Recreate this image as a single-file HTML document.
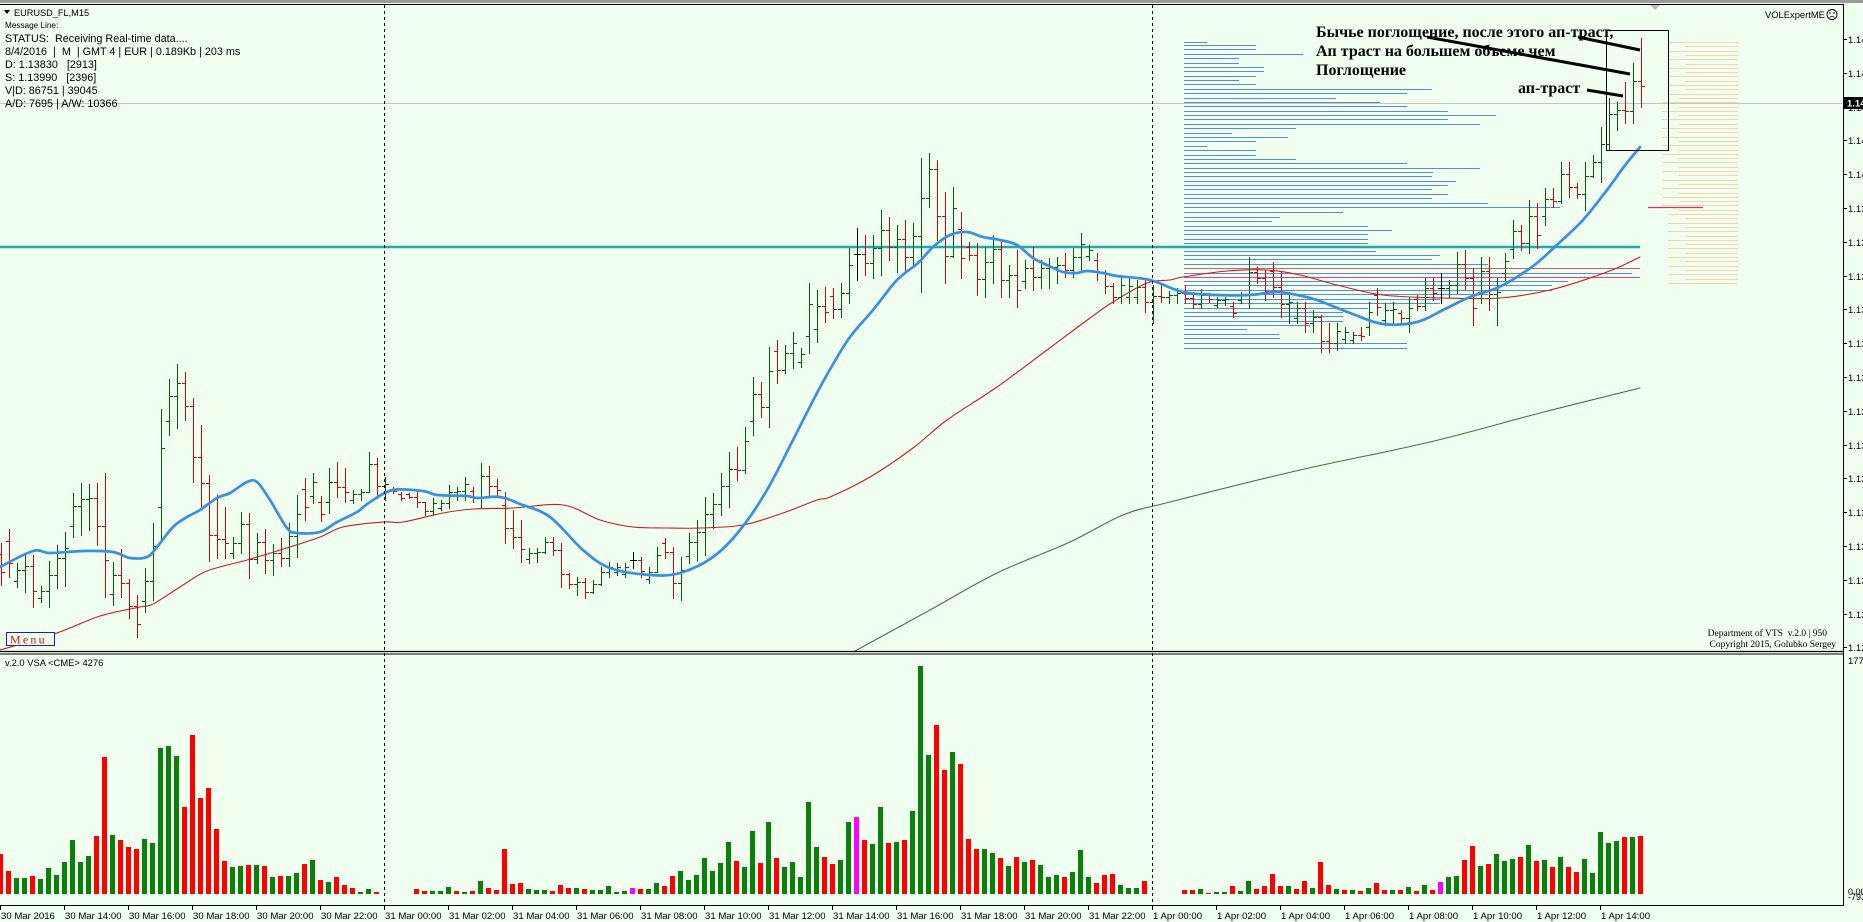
<!DOCTYPE html>
<html><head><meta charset="utf-8">
<style>
html,body{margin:0;padding:0;background:#F0FFF0;overflow:hidden;}
svg{display:block;}
text{font-family:"Liberation Sans",sans-serif;fill:#000;}
.ser{font-family:"Liberation Serif",serif;}
.pre{white-space:pre;}
</style></head><body>
<svg id="s" xmlns="http://www.w3.org/2000/svg" width="1863" height="922" viewBox="0 0 1863 922">
<rect width="1863" height="922" fill="#F0FFF0"/>
<rect x="0" y="0" width="1863" height="3" fill="#9a9a9a"/>
<rect x="0" y="4" width="1844" height="1" fill="#000"/>
<polygon points="1650,5 1660,5 1655,10" fill="#bdbdbd"/>
<g id="prof"></g>
<line x1="0" y1="103.5" x2="1843" y2="103.5" stroke="#c4c4c4" stroke-width="1"/>
<line x1="0" y1="247" x2="1640" y2="247" stroke="#22aaaa" stroke-width="2.4"/>
<line x1="1184" y1="268.5" x2="1640" y2="268.5" stroke="#d06078" stroke-width="1"/>
<line x1="1184" y1="277.5" x2="1640" y2="277.5" stroke="#e2408a" stroke-width="1"/>
<line x1="1648" y1="207.5" x2="1703" y2="207.5" stroke="#d0307a" stroke-width="1.2"/>
<g id="ma"></g>
<g id="bars"></g>
<g id="vol"></g>

<line x1="384.5" y1="5" x2="384.5" y2="905" stroke="#000" stroke-width="1" stroke-dasharray="3,3"/>
<line x1="1152.5" y1="5" x2="1152.5" y2="905" stroke="#000" stroke-width="1" stroke-dasharray="3,3"/>

<line x1="1843.5" y1="4" x2="1843.5" y2="906" stroke="#000" stroke-width="1"/>
<line x1="0" y1="651.5" x2="1844" y2="651.5" stroke="#000" stroke-width="1.3"/>
<line x1="0" y1="654" x2="1844" y2="654" stroke="#000" stroke-width="1"/>
<line x1="0" y1="905.5" x2="1844" y2="905.5" stroke="#000" stroke-width="1"/>
<g id="axes"></g>

<polygon points="4,10 10,10 7,14" fill="#000"/>
<text x="14" y="16" font-size="9.2">EURUSD_FL,M15</text>
<text x="5" y="28" font-size="8.2">Message Line:</text>
<text x="5" y="42" font-size="10.8" class="pre">STATUS:  Receiving Real-time data....</text>
<text x="5" y="55" font-size="10.8" class="pre">8/4/2016  |  M  | GMT 4 | EUR | 0.189Kb | 203 ms</text>
<text x="5" y="68" font-size="10.8" class="pre">D: 1.13830   [2913]</text>
<text x="5" y="81" font-size="10.8" class="pre">S: 1.13990   [2396]</text>
<text x="5" y="94" font-size="10.8" class="pre">V|D: 86751 | 39045</text>
<text x="5" y="107" font-size="10.8" class="pre">A/D: 7695 | A/W: 10366</text>

<text x="1765" y="18" font-size="9.4">VOLExpertME</text>
<circle cx="1832" cy="14.5" r="5" fill="none" stroke="#000" stroke-width="0.9"/>
<circle cx="1830" cy="13" r="0.8" fill="#000"/><circle cx="1834" cy="13" r="0.8" fill="#000"/>
<path d="M1829.5 17.5 Q1832 15.5 1834.5 17.5" fill="none" stroke="#000" stroke-width="0.8"/>

<text x="1316" y="37" font-size="16" font-weight="bold" class="ser">Бычье поглощение, после этого ап-траст,</text>
<text x="1316" y="56" font-size="16" font-weight="bold" class="ser">Ап траст на большем объеме чем</text>
<text x="1316" y="75" font-size="16" font-weight="bold" class="ser">Поглощение</text>
<text x="1518" y="93" font-size="16" font-weight="bold" class="ser">ап-траст</text>
<line x1="1578" y1="37" x2="1640" y2="50" stroke="#000" stroke-width="3"/>
<line x1="1427" y1="37" x2="1630" y2="74" stroke="#000" stroke-width="3"/>
<line x1="1587" y1="90" x2="1623" y2="96" stroke="#000" stroke-width="3"/>
<rect x="1606.5" y="30.5" width="62" height="120" fill="none" stroke="#000" stroke-width="1"/>

<text x="1827" y="636" font-size="9.5" text-anchor="end" class="ser pre">Department of VTS  v.2.0 | 950</text>
<text x="1836" y="647" font-size="9.5" text-anchor="end" class="ser">Copyright 2015, Golubko Sergey</text>

<rect x="6.5" y="632.5" width="48" height="13" fill="#F0FFF0" stroke="#2020b0" stroke-width="1"/>
<text x="10" y="643.5" font-size="12" style="fill:#e01010;letter-spacing:2.2px" class="ser">Menu</text>

<text x="5" y="666" font-size="9.4">v.2.0 VSA &lt;CME&gt; 4276</text>
<text x="1848" y="664" font-size="9.5">1772</text>
<text x="1848" y="895" font-size="9">0.00</text>
<text x="1848" y="900" font-size="9">-793</text>

<rect x="1844" y="97" width="19" height="12" fill="#000"/>
<text x="1847" y="106.5" font-size="9.5" font-weight="bold" style="fill:#fff">1.14</text>
</svg>
<script>
(function(){
var NS="http://www.w3.org/2000/svg";
function mk(t,a,p){var e=document.createElementNS(NS,t);for(var k in a)e.setAttribute(k,a[k]);p.appendChild(e);return e;}
var prof=document.getElementById('prof'),ma=document.getElementById('ma'),bars=document.getElementById('bars'),vol=document.getElementById('vol'),axes=document.getElementById('axes');

var BP=[[42,1207],[45,1256],[49,1256],[54,1303],[58,1239],[63,1239],[67,1264],[71,1264],[76,1256],[80,1239],[84,1256],[89,1432],[93,1407],[98,1336],[102,1380],[106,1407],[111,1448],[115,1496],[119,1448],[124,1480],[128,1296],[133,1232],[137,1288],[141,1256],[146,1207],[150,1256],[155,1256],[159,1296],[163,1407],[168,1480],[172,1433],[176,1432],[181,1456],[185,1448],[189,1432],[194,1448],[198,1432],[203,1488],[207,1560],[212,1343],[217,1280],[221,1272],[226,1368],[230,1392],[234,1368],[239,1368],[243,1368],[251,1376],[255,1440],[259,1432],[264,1488],[273,1632],[281,1568],[285,1552],[290,1552],[294,1488],[299,1440],[303,1440],[308,1368],[312,1343],[316,1343],[321,1343],[325,1310],[329,1247],[334,1279],[338,1280],[343,1407],[348,1407]];
var d='';BP.forEach(function(p){d+='M1184 '+(p[0]+.5)+'H'+p[1];});
mk('path',{d:d,stroke:'#5c8ad4','stroke-width':1,fill:'none'},prof);
var od='';for(var k=0;k<57;k++){var y=Math.round(42+k*4.3)+.5;var l=1668+((k*17)%34);if(k>12&&k<40)l-=6;od+='M'+l+' '+y+'H1738';}
mk('path',{d:od,stroke:'#f6d3ae','stroke-width':1,fill:'none'},prof);

function cr(pts){var s='M'+pts[0][0]+' '+pts[0][1];
 for(var i=0;i<pts.length-1;i++){var p0=pts[i-1]||pts[i],p1=pts[i],p2=pts[i+1],p3=pts[i+2]||p2;
  var c1x=p1[0]+(p2[0]-p0[0])/6,c1y=p1[1]+(p2[1]-p0[1])/6,c2x=p2[0]-(p3[0]-p1[0])/6,c2y=p2[1]-(p3[1]-p1[1])/6;
  s+='C'+c1x.toFixed(1)+' '+c1y.toFixed(1)+' '+c2x.toFixed(1)+' '+c2y.toFixed(1)+' '+p2[0]+' '+p2[1];}
 return s;}
function pl(pts,col,w,par){mk('path',{d:cr(pts),fill:'none',stroke:col,'stroke-width':w,'stroke-linejoin':'round','stroke-linecap':'round'},par);}
var RED=[[0,650],[57,633],[100,616],[140,607],[153,604],[180,587],[207,571],[247,560],[290,547],[320,537],[343,527],[383,522],[403,522],[443,513],[473,509],[513,508],[563,505],[600,520],[633,527],[667,528],[700,528],[743,525],[783,513],[817,500],[830,497],[870,477],[913,448],[947,420],[997,387],[1047,350],[1090,318],[1113,302],[1147,283],[1170,280],[1183,277],[1227,271],[1267,270],[1300,275],[1337,285],[1383,295],[1443,298],[1500,298],[1550,290],[1593,277],[1617,268],[1640,257]];
var GRN=[[855,651],[930,610],[997,573],[1070,542],[1123,515],[1170,502],[1300,470],[1430,442],[1540,413],[1640,388]];
pl(RED,'#c81e1e',1.1,ma);
pl(GRN,'#3a7a3a',1.1,ma);

var P=[[543,585,'r'],[529,577,'r'],[563,587,'g'],[555,592,'g'],[555,607,'r'],[586,602,'g'],[561,607,'g'],[545,588,'g'],[532,586,'g'],[493,537,'g'],
[483,535,'g'],[484,530,'g'],[483,545,'r'],[473,597,'r'],[562,605,'g'],[549,597,'r'],[579,618,'r'],[595,637,'r'],[568,612,'g'],[523,600,'g'],
[409,540,'g'],[379,435,'g'],[364,428,'g'],[372,420,'r'],[398,482,'r'],[425,508,'r'],[475,561,'r'],[495,558,'r'],[507,558,'r'],[537,558,'g'],
[512,553,'g'],[513,578,'r'],[533,563,'g'],[529,573,'r'],[544,575,'g'],[538,566,'r'],[523,566,'g'],[495,557,'g'],[478,520,'r'],[473,503,'g'],
[496,521,'r'],[468,513,'g'],[462,497,'r'],[468,502,'r'],[490,503,'g'],[489,500,'g'],[452,492,'g'],[458,498,'r'],[477,500,'g'],[487,493,'r'],
[492,500,'r'],[493,498,'r'],[490,507,'r'],[502,515,'r'],[498,515,'g'],[500,510,'g'],[485,508,'g'],[487,500,'g'],[477,500,'g'],[487,502,'r'],
[463,507,'g'],[466,495,'r'],[479,495,'r'],[492,543,'r'],[510,548,'r'],[520,562,'r'],[548,563,'g'],[548,562,'g'],[537,553,'g'],[537,555,'r'],
[543,587,'r'],[573,588,'r'],[577,595,'g'],[578,598,'r'],[580,593,'g'],[567,585,'g'],[562,577,'g'],[563,575,'g'],[563,577,'g'],[552,568,'k'],
[557,577,'r'],[567,583,'g'],[547,572,'g'],[538,558,'r'],[547,598,'r'],[557,600,'g'],[533,563,'g'],[520,560,'g'],[497,555,'g'],[493,528,'g'],
[473,515,'g'],[452,507,'g'],[447,480,'r'],[427,473,'g'],[377,435,'g'],[382,417,'r'],[347,427,'g'],[340,383,'r'],[345,373,'g'],[332,368,'g'],
[348,367,'g'],[283,353,'g'],[290,342,'g'],[287,322,'r'],[288,318,'r'],[283,317,'g'],[248,303,'g'],[228,280,'k'],[235,275,'r'],[235,278,'g'],
[210,275,'g'],[217,260,'r'],[225,272,'g'],[220,273,'r'],[223,267,'g'],[158,292,'g'],[153,207,'g'],[160,240,'r'],[192,283,'r'],[187,257,'g'],
[212,278,'r'],[242,260,'r'],[243,295,'r'],[247,297,'g'],[235,283,'g'],[240,297,'r'],[265,297,'g'],[250,307,'r'],[260,288,'g'],[247,290,'r'],
[260,288,'g'],[258,288,'g'],[257,283,'g'],[253,277,'r'],[248,277,'g'],[233,270,'g'],[245,260,'g'],[253,280,'r'],[270,293,'r'],[283,303,'r'],
[277,303,'g'],[278,303,'g'],[280,303,'g'],[280,312,'r'],[285,323,'g'],[285,302,'r'],[291,303,'g'],[288,303,'g'],[285,303,'r'],[295,308,'r'],
[289,308,'g'],[293,302,'r'],[297,307,'g'],[297,305,'g'],[302,317,'r'],[292,303,'g'],[257,308,'g'],[267,283,'r'],[270,300,'r'],[262,297,'r'],
[272,317,'r'],[293,323,'g'],[302,323,'g'],[302,332,'r'],[310,332,'g'],[315,352,'r'],[323,352,'r'],[323,350,'g'],[327,343,'g'],[332,343,'g'],
[327,340,'r'],[302,335,'g'],[288,315,'r'],[303,325,'g'],[302,325,'g'],[310,322,'r'],[297,332,'g'],[295,310,'r'],[278,310,'g'],[278,300,'r'],
[273,303,'k'],[280,297,'g'],[252,293,'g'],[250,290,'r'],[268,325,'r'],[257,303,'g'],[257,310,'r'],[278,325,'g'],[253,280,'g'],[220,258,'g'],
[225,250,'r'],[200,253,'g'],[203,248,'r'],[188,225,'g'],[188,207,'r'],[162,203,'g'],[162,197,'r'],[183,198,'r'],[162,210,'g'],[155,177,'g'],
[127,182,'g'],[98,150,'g'],[102,130,'g'],[82,123,'r'],[63,123,'g'],[38,107,'r']];
var pd={g:'',r:'',k:''},pc=null;
P.forEach(function(b,i){var H=b[0],L=b[1],c=b[2],r=L-H,x=8*i+1.5,o,cl;
 if(c=='g'){cl=Math.round(H+0.3*r);o=(pc!==null&&pc>cl&&pc<=L)?pc:Math.round(L-0.25*r);}
 else if(c=='r'){cl=Math.round(L-0.3*r);o=(pc!==null&&pc<cl&&pc>=H)?pc:Math.round(H+0.25*r);}
 else{cl=Math.round((H+L)/2);o=cl;}
 pc=cl;
 pd[c]+='M'+x+' '+H+'V'+(L+1)+'M'+(x-3.5)+' '+(o+.5)+'H'+x+'M'+x+' '+(cl+.5)+'H'+(x+3.5);
});
mk('path',{d:pd.g,stroke:'#006400','stroke-width':1,fill:'none'},bars);
mk('path',{d:pd.r,stroke:'#e00000','stroke-width':1,fill:'none'},bars);
mk('path',{d:pd.k,stroke:'#000','stroke-width':1,fill:'none'},bars);

var BLUE=[[0,567],[33,551],[50,553],[83,551],[113,552],[130,558],[147,557],[157,547],[173,527],[187,517],[200,510],[217,498],[230,493],[247,482],[257,482],[270,500],[287,528],[297,533],[320,532],[337,522],[357,512],[370,502],[393,490],[423,491],[437,495],[467,496],[477,498],[500,497],[520,504],[550,517],[583,550],[610,568],[650,575],[680,573],[713,557],[740,530],[767,490],[793,440],[817,393],[832,366],[850,337],[873,310],[897,280],[918,263],[933,247],[950,235],[967,232],[983,237],[1000,240],[1017,245],[1033,258],[1047,265],[1063,272],[1077,273],[1087,271],[1103,273],[1117,276],[1150,280],[1183,292],[1217,295],[1250,295],[1277,292],[1297,295],[1317,300],[1350,313],[1383,324],[1417,322],[1443,310],[1470,297],[1497,288],[1517,277],[1537,263],[1560,242],[1583,220],[1607,190],[1623,168],[1640,147]];
pl(BLUE,'#3a8fe2',2.7,bars);

var V=[854,871,878,878,876,879,868,875,862,840,862,856,836,757,835,840,847,849,839,843,748,746,756,807,735,798,788,829,861,867,866,865,865,866,877,876,876,873,864,860,880,882,877,885,888,892,889,892,
0,0,0,0,
889,891,891,891,887,891,892,891,881,888,890,849,884,883,889,890,890,891,885,888,888,889,890,890,886,892,891,888,889,889,883,886,876,871,880,875,858,871,863,842,861,867,831,863,822,858,867,862,877,802,847,857,864,860,822,817,840,844,807,843,842,840,811,666,755,725,770,752,764,839,849,849,853,858,866,857,862,860,865,877,875,877,872,850,877,883,875,874,885,888,888,881,
0,0,0,0,
890,890,889,893,892,892,886,891,881,889,886,874,886,886,889,881,888,862,885,889,890,890,891,888,883,890,890,890,887,891,885,890,882,877,876,860,846,866,864,854,861,859,857,845,861,860,867,857,867,872,859,873,832,843,841,837,837,836];
var VC="rrggrggggggg"+"rrgrrrggggg"+"rrrrrr"+"ggrgrgrggrgrgrrrggr"+"...."+"rrgggrgrgr"+"rrrrgggrrr"+"grgggggmrg"+"grrggggggg"+"rggrgrgggg"+"grrggmrggr"+"grgggrrgrr"+"rggrgrgrgg"+"grgggrrrgg"+"gr"+"...."+"rrgrggrggr"+"rrrgrrgrrg"+"rgrgrrgrgr"+"grmggrrgrg"+"ggrgrgrgrr"+"gggggrgr";
var COL={g:'#0a800a',r:'#ff0000',m:'#ff00ff'};
var vd={g:'',r:'',m:''};
for(var i=0;i<V.length;i++){var t=V[i],c=VC.charAt(i);if(!t||!COL[c])continue;vd[c]+='M'+(8*i-2)+' '+t+'H'+(8*i+3)+'V894H'+(8*i-2)+'Z';}
for(var c in vd){if(vd[c])mk('path',{d:vd[c],fill:COL[c]},vol);}

for(var k=0;k<19;k++){var y=Math.round(39+33.8*k);
 mk('line',{x1:1843,y1:y+.5,x2:1847,y2:y+.5,stroke:'#000','stroke-width':1},axes);
 var tx=mk('text',{x:1848,y:y+4,'font-size':9.5},axes);tx.textContent=(k<5?'1.14':(k<18?'1.13':'1.12'));}
var TL=['30 Mar 2016','30 Mar 14:00','30 Mar 16:00','30 Mar 18:00','30 Mar 20:00','30 Mar 22:00','31 Mar 00:00','31 Mar 02:00','31 Mar 04:00','31 Mar 06:00','31 Mar 08:00','31 Mar 10:00','31 Mar 12:00','31 Mar 14:00','31 Mar 16:00','31 Mar 18:00','31 Mar 20:00','31 Mar 22:00','1 Apr 00:00','1 Apr 02:00','1 Apr 04:00','1 Apr 06:00','1 Apr 08:00','1 Apr 10:00','1 Apr 12:00','1 Apr 14:00'];
TL.forEach(function(l,j){var x=64*j;
 mk('line',{x1:x+.5,y1:905,x2:x+.5,y2:910,stroke:'#000','stroke-width':1},axes);
 var tx=mk('text',{x:x+1,y:919,'font-size':9.6},axes);tx.textContent=l;});
})();
</script>
</body></html>
